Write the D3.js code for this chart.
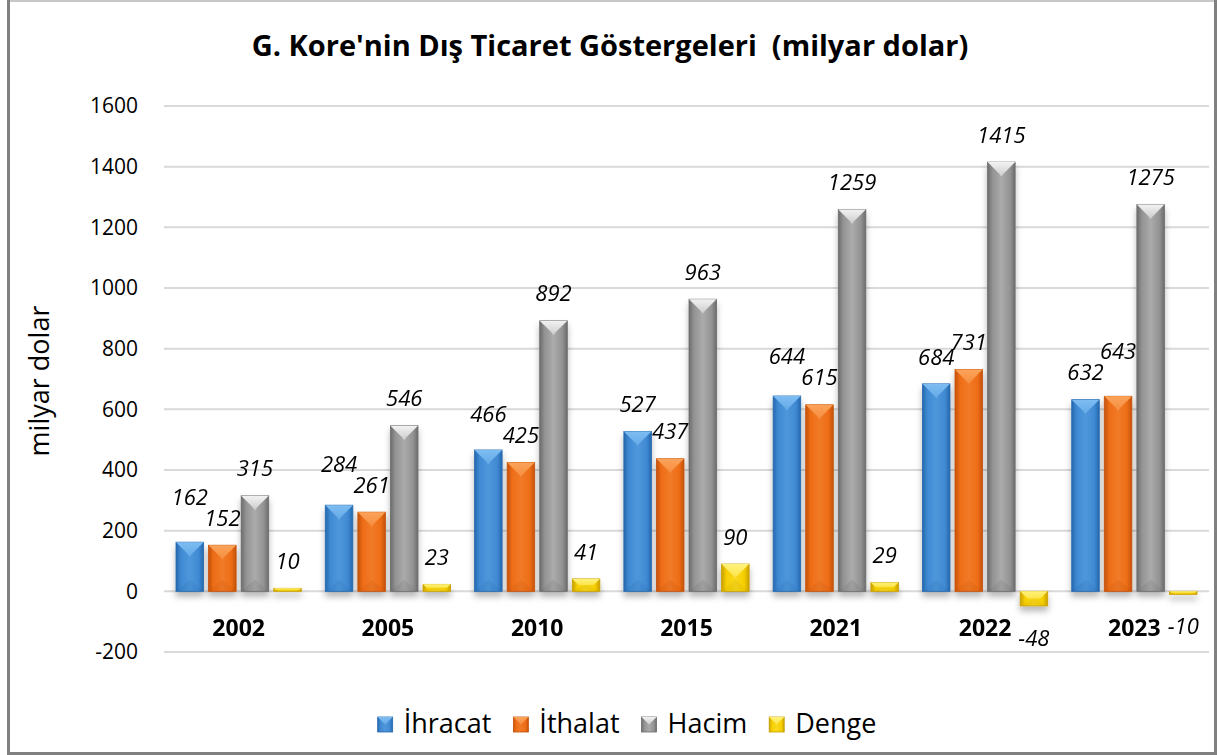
<!DOCTYPE html>
<html>
<head>
<meta charset="utf-8">
<script src="https://cdn.jsdelivr.net/npm/d3@7"></script>
<style>
  body { margin: 0; background: #fff; }
  svg { display: block; }
  text { font-family: "Open Sans", "Noto Sans", sans-serif; fill: #000; }
</style>
</head>
<body>
<div id="chart"></div>
<script>
// data
const years = ['2002', '2005', '2010', '2015', '2021', '2022', '2023'];
const seriesNames = ['İhracat', 'İthalat', 'Hacim', 'Denge'];
const ihracat = [162, 284, 466, 527, 644, 684, 632];
const ithalat = [152, 261, 425, 437, 615, 731, 643];
const hacim = [315, 546, 892, 963, 1259, 1415, 1275];
const denge = [10, 23, 41, 90, 29, -48, -10];
const yTicks = [-200, 0, 200, 400, 600, 800, 1000, 1200, 1400, 1600];

const seriesValues = [ihracat, ithalat, hacim, denge];
const palette = {
  'İhracat': { mid: '#3f8ad3', light: '#7dbdf2', dark: '#2568ad' },
  'İthalat': { mid: '#ee6d17', light: '#fba35a', dark: '#c45209' },
  'Hacim':   { mid: '#939393', light: '#f2f2f2', dark: '#6c6c6c' },
  'Denge':   { mid: '#f6cf00', light: '#fff27a', dark: '#c9a000' }
};

const W = 1219, H = 755;
const svg = d3.select('#chart').append('svg')
  .attr('width', W)
  .attr('height', H);

const defs = svg.append('defs');
seriesNames.forEach((s, i) => {
  const c = palette[s];
  const g = defs.append('linearGradient').attr('id', 'body' + i)
    .attr('x1', 0).attr('x2', 1).attr('y1', 0).attr('y2', 0);
  g.append('stop').attr('offset', '0%').attr('stop-color', c.dark);
  g.append('stop').attr('offset', '18%').attr('stop-color', c.mid);
  g.append('stop').attr('offset', '50%').attr('stop-color', d3.interpolateRgb(c.mid, c.light)(0.25));
  g.append('stop').attr('offset', '82%').attr('stop-color', c.mid);
  g.append('stop').attr('offset', '100%').attr('stop-color', c.dark);
  const t = defs.append('linearGradient').attr('id', 'top' + i)
    .attr('x1', 0).attr('x2', 0).attr('y1', 0).attr('y2', 1);
  t.append('stop').attr('offset', '0%').attr('stop-color', c.light);
  t.append('stop').attr('offset', '100%').attr('stop-color', d3.interpolateRgb(c.light, c.mid)(0.4));
});
const shadow = defs.append('filter').attr('id', 'shadow')
  .attr('x', '-30%').attr('y', '-10%').attr('width', '160%').attr('height', '130%');
shadow.append('feDropShadow')
  .attr('dx', 0).attr('dy', 5).attr('stdDeviation', 3)
  .attr('flood-color', '#000').attr('flood-opacity', 0.28);

// frame
svg.append('line').attr('x1', 8).attr('x2', 1216).attr('y1', 1).attr('y2', 1)
  .attr('stroke', '#c8c8c8').attr('stroke-width', 2);
svg.append('line').attr('x1', 8.5).attr('x2', 8.5).attr('y1', 0).attr('y2', H)
  .attr('stroke', '#808080').attr('stroke-width', 3);
svg.append('line').attr('x1', 1215.5).attr('x2', 1215.5).attr('y1', 0).attr('y2', H)
  .attr('stroke', '#808080').attr('stroke-width', 3);
svg.append('line').attr('x1', 8).attr('x2', 1216).attr('y1', 753.5).attr('y2', 753.5)
  .attr('stroke', '#808080').attr('stroke-width', 3);

const left = 164, right = 1209;
const y = d3.scaleLinear().domain([-200, 1600]).range([652, 106]);
const x0 = d3.scaleBand().domain(years).range([left, right]);
const x1 = d3.scaleBand().domain(seriesNames)
  .range([12, x0.bandwidth() - 12]).paddingInner(0.154);

// title
svg.append('text')
  .attr('x', 610).attr('y', 56)
  .attr('text-anchor', 'middle')
  .attr('xml:space', 'preserve')
  .style('white-space', 'pre')
  .style('font-size', '29px').style('font-weight', 'bold')
  .text("G. Kore'nin Dış Ticaret Göstergeleri  (milyar dolar)");

// grid + y axis
svg.append('g').selectAll('line')
  .data(yTicks).join('line')
  .attr('x1', left).attr('x2', right)
  .attr('y1', d => y(d)).attr('y2', d => y(d))
  .attr('stroke', '#d9d9d9').attr('stroke-width', 2);

const yAxis = svg.append('g')
  .attr('transform', 'translate(146,0)')
  .call(d3.axisLeft(y).tickValues(yTicks).tickSize(0).tickPadding(8)
    .tickFormat(d => String(d)))
  .call(g => g.select('.domain').remove());
yAxis.selectAll('text').style('font-size', '21px').attr('fill', '#000');

svg.append('text')
  .attr('transform', 'translate(40,381) rotate(-90)')
  .attr('dy', '0.35em')
  .attr('text-anchor', 'middle')
  .style('font-size', '27px')
  .text('milyar dolar');

// bars
function drawBar(g, x, w, v, i) {
  const yt = Math.min(y(v), y(0));
  const yb = Math.max(y(v), y(0));
  const h = yb - yt;
  const c = palette[seriesNames[i]];
  g.append('rect').attr('x', x).attr('y', yt).attr('width', w).attr('height', h)
    .attr('fill', `url(#body${i})`)
    .attr('stroke', c.dark).attr('stroke-width', 0.8);
  const d = Math.min(w * 0.42, h / 2);
  const tip = Math.min(yt + d * 1.25, yt + h / 2);
  g.append('path')
    .attr('d', `M${x},${yt}L${x + w},${yt}L${x + w - d},${yt + d}L${x + w / 2},${tip}L${x + d},${yt + d}Z`)
    .attr('fill', `url(#top${i})`);
  const e = Math.min(w * 0.42, h / 2);
  g.append('path')
    .attr('d', `M${x},${yb}L${x + w},${yb}L${x + w / 2},${yb - e}Z`)
    .attr('fill', c.dark).attr('opacity', 0.18);
}

const barG = svg.append('g').attr('filter', 'url(#shadow)');
years.forEach((yr, k) => {
  seriesNames.forEach((s, i) => {
    const bx = x0(yr) + x1(s);
    drawBar(barG, bx, x1.bandwidth(), seriesValues[i][k], i);
  });
});

// value labels
const labels = [];
years.forEach((yr, k) => {
  const row = seriesNames.map((s, i) => {
    const v = seriesValues[i][k];
    const cy = v >= 0 ? y(v) - 27 : y(v) + 32;
    return { v, cx: x0(yr) + x1(s) + x1.bandwidth() / 2, cy };
  });
  // keep the two first labels from colliding
  const a = row[0], b = row[1];
  if (Math.abs(a.cy - b.cy) < 14) {
    if (a.v >= b.v) a.cy = b.cy - 21; else b.cy = a.cy - 21;
  }
  labels.push(...row);
});
svg.append('g').selectAll('text')
  .data(labels).join('text')
  .attr('x', d => d.cx).attr('y', d => d.cy)
  .attr('dy', '0.35em')
  .attr('text-anchor', 'middle')
  .style('font-size', '22px').style('font-style', 'italic')
  .text(d => String(d.v));

// category labels
svg.append('g').selectAll('text')
  .data(years).join('text')
  .attr('x', d => x0(d) + x0.bandwidth() / 2)
  .attr('y', 628).attr('dy', '0.35em')
  .attr('text-anchor', 'middle')
  .style('font-size', '23px').style('font-weight', 'bold')
  .text(d => d);

// legend
const legend = svg.append('g');
let lx = 0;
seriesNames.forEach((s, i) => {
  const item = legend.append('g').attr('transform', `translate(${lx},0)`);
  item.append('rect').attr('x', 0).attr('y', -7).attr('width', 15).attr('height', 15)
    .attr('fill', `url(#body${i})`).attr('stroke', palette[s].dark).attr('stroke-width', 0.8);
  item.append('path').attr('d', 'M0,-7L15,-7L7.5,0.5Z').attr('fill', `url(#top${i})`);
  const t = item.append('text').attr('x', 26).attr('dy', '0.35em')
    .style('font-size', '27px').text(s);
  lx += 26 + t.node().getComputedTextLength() + 22;
});
lx -= 22;
legend.attr('transform', `translate(${627 - lx / 2},724)`);
</script>
</body>
</html>
